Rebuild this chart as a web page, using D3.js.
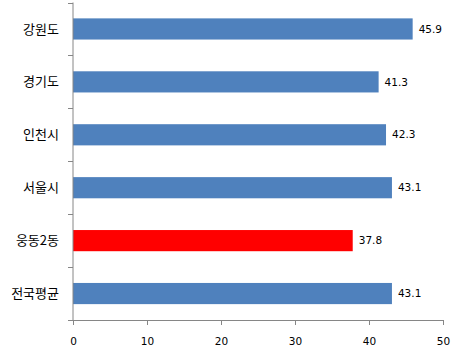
<!DOCTYPE html>
<html>
<head>
  <meta charset="utf-8">
  <style>
    body { margin: 0; background: #fff; }
  </style>
</head>
<body>
  <svg width="462" height="354"></svg>
  <script src="https://d3js.org/d3.v7.min.js"></script>
  <script>
    // 데이터
    var regions = ["강원도", "경기도", "인천시", "서울시", "웅동2동", "전국평균"];
    var values = [45.9, 41.3, 42.3, 43.1, 37.8, 43.1];
    var highlight = ["웅동2동"];
    var xTicks = [0, 10, 20, 30, 40, 50];

    var svg = d3.select("svg");
    var plotLeft = 73, plotRight = 443, plotTop = 2.5, plotBottom = 320;

    var x = d3.scaleLinear().domain([0, 50]).range([plotLeft, plotRight]);
    var y = d3.scaleBand().domain(regions).range([plotTop, plotBottom]).paddingInner(0.6).paddingOuter(0.3);
    var band = d3.scaleBand().domain(regions).range([plotTop, plotBottom]);

    // 막대
    svg.selectAll("rect.bar")
      .data(regions)
      .enter()
      .append("rect")
      .attr("class", "bar")
      .attr("x", x(0))
      .attr("y", function (d) { return y(d); })
      .attr("width", function (d, i) { return x(values[i]) - x(0); })
      .attr("height", y.bandwidth())
      .attr("fill", function (d) { return highlight.indexOf(d) >= 0 ? "#FF0000" : "#4F81BD"; });

    // 값 라벨
    svg.selectAll("text.val")
      .data(regions)
      .enter()
      .append("text")
      .attr("class", "val")
      .attr("x", function (d, i) { return x(values[i]) + 6; })
      .attr("y", function (d) { return y(d) + y.bandwidth() / 2; })
      .attr("dy", "0.35em")
      .attr("font-family", "'DejaVu Sans', sans-serif")
      .attr("font-size", "10.5px")
      .attr("fill", "#000")
      .text(function (d, i) { return values[i].toFixed(1); });

    // y축
    var axisColor = "#868686";
    svg.append("line")
      .attr("x1", plotLeft).attr("x2", plotLeft)
      .attr("y1", plotTop).attr("y2", plotBottom)
      .attr("stroke", axisColor);
    var yTickPos = [plotTop].concat(regions.map(function (d) { return band(d) + band.bandwidth(); }));
    svg.selectAll("line.ytick")
      .data(yTickPos)
      .enter()
      .append("line")
      .attr("class", "ytick")
      .attr("x1", plotLeft - 5).attr("x2", plotLeft)
      .attr("y1", function (d) { return Math.round(d) + 0.5; })
      .attr("y2", function (d) { return Math.round(d) + 0.5; })
      .attr("stroke", axisColor);
    svg.selectAll("text.cat")
      .data(regions)
      .enter()
      .append("text")
      .attr("class", "cat")
      .attr("x", plotLeft - 14)
      .attr("y", function (d) { return band(d) + band.bandwidth() / 2; })
      .attr("dy", "0.35em")
      .attr("text-anchor", "end")
      .attr("font-family", "'Noto Sans CJK KR', sans-serif")
      .attr("font-size", "13px")
      .attr("fill", "#000")
      .text(function (d) { return d; });

    // x축
    var xAxis = svg.append("g")
      .attr("transform", "translate(0," + plotBottom + ")")
      .call(d3.axisBottom(x).tickValues(xTicks).tickSize(5).tickPadding(13));
    xAxis.select(".domain").attr("stroke", axisColor);
    xAxis.selectAll(".tick line").attr("stroke", axisColor);
    xAxis.selectAll("text")
      .attr("font-family", "'DejaVu Sans', sans-serif")
      .attr("font-size", "10.5px")
      .attr("fill", "#000");
  </script>
</body>
</html>
